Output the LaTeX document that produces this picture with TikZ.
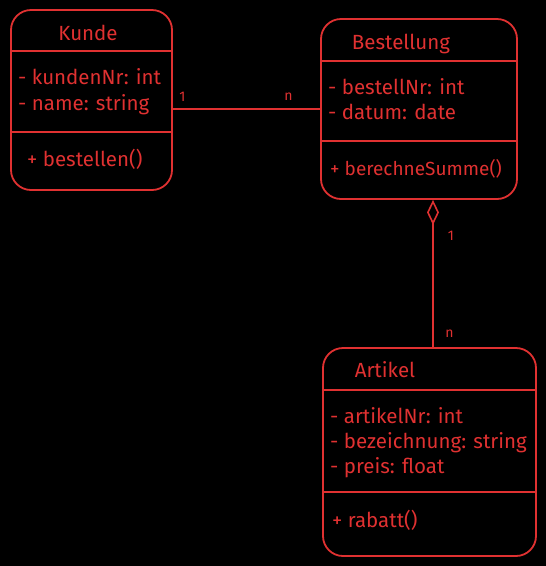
\documentclass[tikz,border=0pt]{standalone}
\usepackage{fontspec}
\setmainfont{Fira Sans}
\usetikzlibrary{arrows.meta}
\definecolor{exred}{HTML}{E03131}
\tikzset{
  umlbox/.style={draw=exred, line width=1.8pt, rounded corners=20pt, fill=none},
  divider/.style={draw=exred, line width=1.8pt},
  conn/.style={draw=exred, line width=1.8pt},
  titletext/.style={text=exred, font=\fontsize{20.5}{22}\selectfont, anchor=base, inner sep=0pt},
  membertext/.style={text=exred, font=\fontsize{20.5}{22}\selectfont, anchor=base west, inner sep=0pt},
  multtext/.style={text=exred, font=\fontsize{14}{16}\selectfont, anchor=base, inner sep=0pt}
}
\begin{document}
\begin{tikzpicture}[x=1pt,y=-1pt]
\fill[black] (0,0) rectangle (546,566);
\useasboundingbox (0,0) rectangle (546,566);
% Kunde
\node[umlbox, minimum width=161pt, minimum height=180pt] (kunde) at (91.5,100) {};
\draw[divider] (kunde.west |- 0,51) -- (kunde.east |- 0,51);
\draw[divider] (kunde.west |- 0,132) -- (kunde.east |- 0,132);
\node[titletext] (kundeT) at (88,40) {Kunde};
\node[membertext] (kundeA1) at (18,84) {- kundenNr: int};
\node[membertext] (kundeA2) at (18,110) {- name: string};
\node[membertext] (kundeM1) at (27,166) {+ bestellen()};
% Bestellung
\node[umlbox, minimum width=196pt, minimum height=180pt] (best) at (419,109) {};
\draw[divider] (best.west |- 0,61) -- (best.east |- 0,61);
\draw[divider] (best.west |- 0,141) -- (best.east |- 0,141);
\node[titletext] (bestT) at (401,49) {Bestellung};
\node[membertext] (bestA1) at (328,94) {- bestellNr: int};
\node[membertext] (bestA2) at (328,119) {- datum: date};
\node[membertext, font=\fontsize{19}{21}\selectfont] (bestM1) at (330,175) {+ berechneSumme()};
% Artikel
\node[umlbox, minimum width=213pt, minimum height=208pt] (art) at (429.5,452) {};
\draw[divider] (art.west |- 0,390) -- (art.east |- 0,390);
\draw[divider] (art.west |- 0,492) -- (art.east |- 0,492);
\node[titletext] (artT) at (385,377) {Artikel};
\node[membertext] (artA1) at (330,423) {- artikelNr: int};
\node[membertext] (artA2) at (330,448) {- bezeichnung: string};
\node[membertext] (artA3) at (330,473) {- preis: float};
\node[membertext] (artM1) at (332,527) {+ rabatt()};
% Connectors
\draw[conn] (best.west) -- (best.west -| kunde.east);
\node[multtext] (m1) at (182.5,101) {1};
\node[multtext] (m2) at (288.5,100) {n};
\draw[conn, {Diamond[open, length=25pt, width=12pt, line width=1.6pt]}-] ([xshift=14pt]best.south) -- ([xshift=14pt]best.south |- art.north);
\node[multtext] (m3) at (451,240) {1};
\node[multtext] (m4) at (449.5,337) {n};
\end{tikzpicture}
\end{document}
